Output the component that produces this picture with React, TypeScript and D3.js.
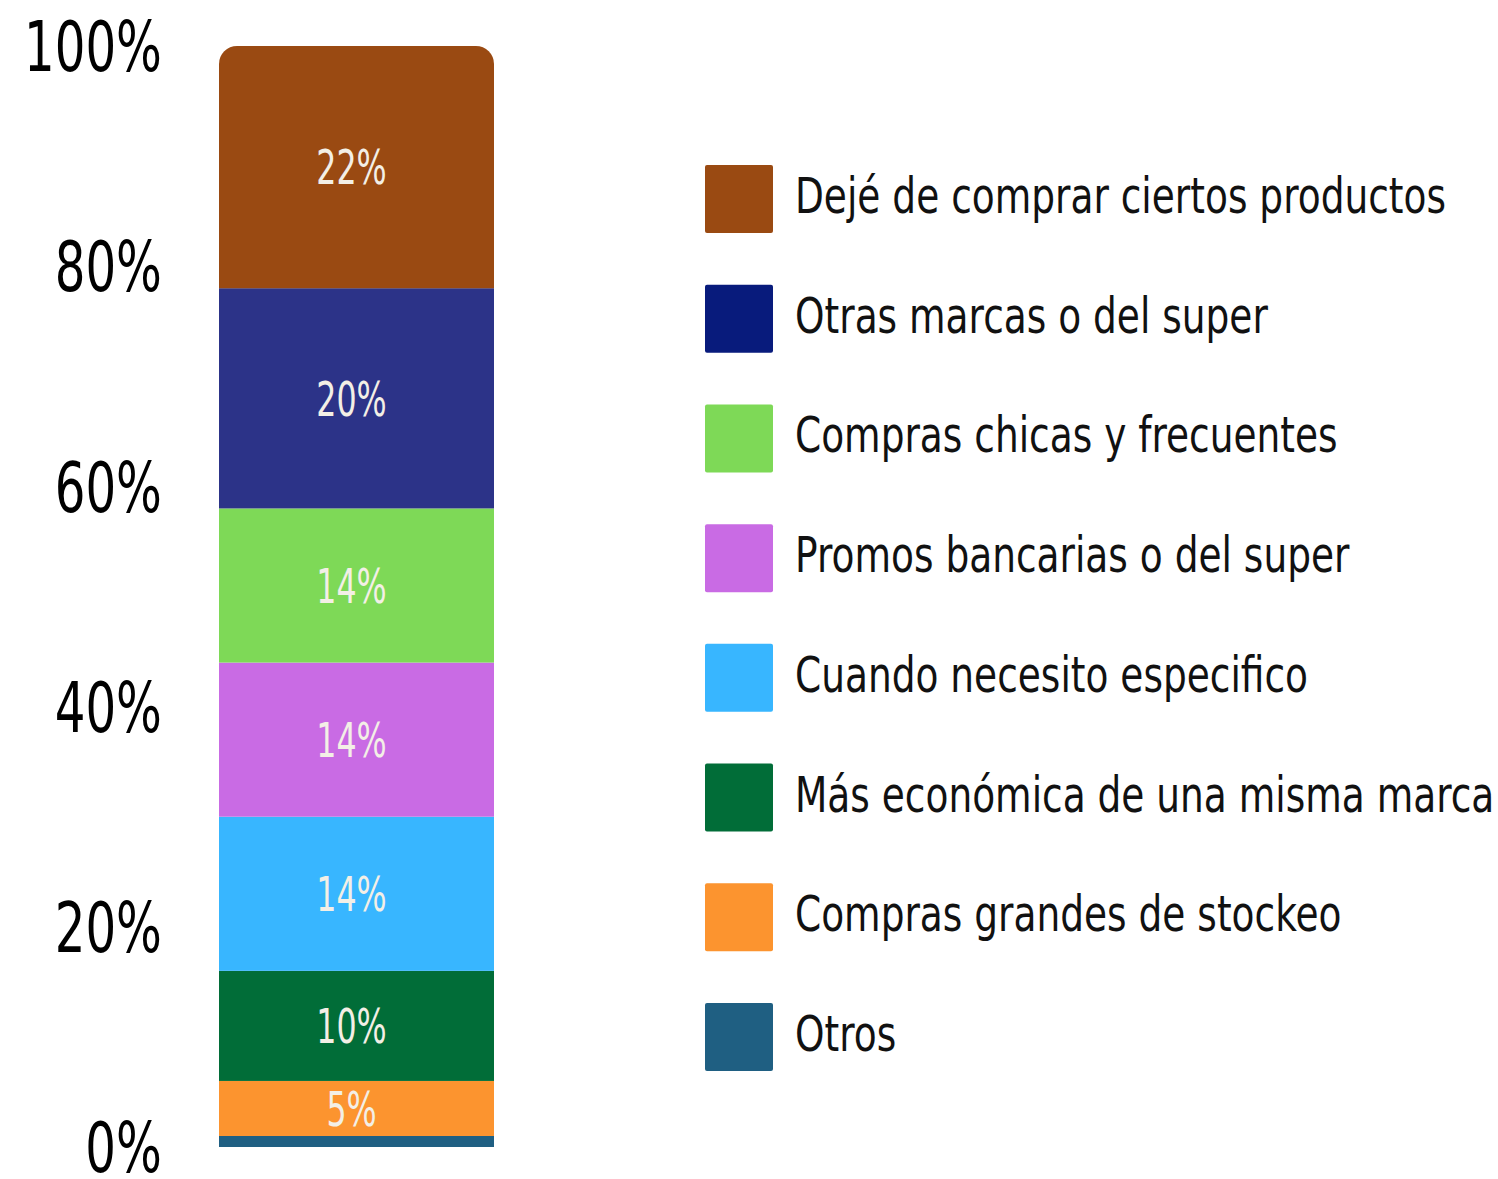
import React from "react";
import * as d3 from "d3";

const categories = [
  "Dejé de comprar ciertos productos",
  "Otras marcas o del super",
  "Compras chicas y frecuentes",
  "Promos bancarias o del super",
  "Cuando necesito especifico",
  "Más económica de una misma marca",
  "Compras grandes de stockeo",
  "Otros",
];
const values = [22, 20, 14, 14, 14, 10, 5, 1];
const valueLabels = ["22%", "20%", "14%", "14%", "14%", "10%", "5%", ""];
const barColors = ["#9A4A12", "#2C3388", "#7ED957", "#C96BE4", "#38B6FF", "#016D38", "#FC942F", "#1F5F82"];
const legendColors = ["#9A4A12", "#081B7C", "#7ED957", "#C96BE4", "#38B6FF", "#016D38", "#FC942F", "#1F5F82"];
const yTicks = [0, 20, 40, 60, 80, 100];

const W = 1498;
const H = 1179;
const FONT = "'DejaVu Sans', sans-serif";

export default function App() {
  const y = d3.scaleLinear().domain([0, 100]).range([1147, 46]);
  const barX0 = 219;
  const barX1 = 494;
  const r = 18;

  const order = categories.map((c, i) => i).reverse();
  let cum = 0;
  const segs = order.map((i) => {
    const s = { i, y0: cum, y1: cum + values[i] };
    cum += values[i];
    return s;
  });

  const legendY = d3.scaleLinear().domain([0, categories.length - 1]).range([165, 1003]);

  return (
    <svg width={W} height={H} style={{ position: "absolute", left: 0, top: 0, background: "#fff" }} fontFamily={FONT}>
      {yTicks.map((t) => (
        <text
          key={t}
          transform={`translate(162,${y(t)}) scale(0.69,1)`}
          dy="0.36em"
          textAnchor="end"
          fontSize={70}
          fill="#000"
        >
          {t}%
        </text>
      ))}
      {segs.map((s) => {
        const top = y(s.y1);
        const bot = y(s.y0);
        const isTop = s.y1 >= 100;
        if (isTop) {
          const p = d3.path();
          p.moveTo(barX0, bot);
          p.lineTo(barX0, top + r);
          p.arcTo(barX0, top, barX0 + r, top, r);
          p.lineTo(barX1 - r, top);
          p.arcTo(barX1, top, barX1, top + r, r);
          p.lineTo(barX1, bot);
          p.closePath();
          return <path key={s.i} d={p.toString()} fill={barColors[s.i]} />;
        }
        return <rect key={s.i} x={barX0} y={top} width={barX1 - barX0} height={bot - top} fill={barColors[s.i]} />;
      })}
      {segs.map((s) =>
        valueLabels[s.i] ? (
          <text
            key={"l" + s.i}
            transform={`translate(${(barX0 + barX1) / 2 - 5},${(y(s.y0) + y(s.y1)) / 2}) scale(0.66,1)`}
            dy="0.36em"
            textAnchor="middle"
            fontSize={48}
            fill="#F3EFE6"
          >
            {valueLabels[s.i]}
          </text>
        ) : null
      )}
      {categories.map((c, i) => (
        <g key={c} transform={`translate(705,${legendY(i)})`}>
          <rect width={68} height={68} rx={2} fill={legendColors[i]} />
          <text transform="translate(90,48) scale(0.75,1)" fontSize={50} fill="#111">
            {c}
          </text>
        </g>
      ))}
    </svg>
  );
}
